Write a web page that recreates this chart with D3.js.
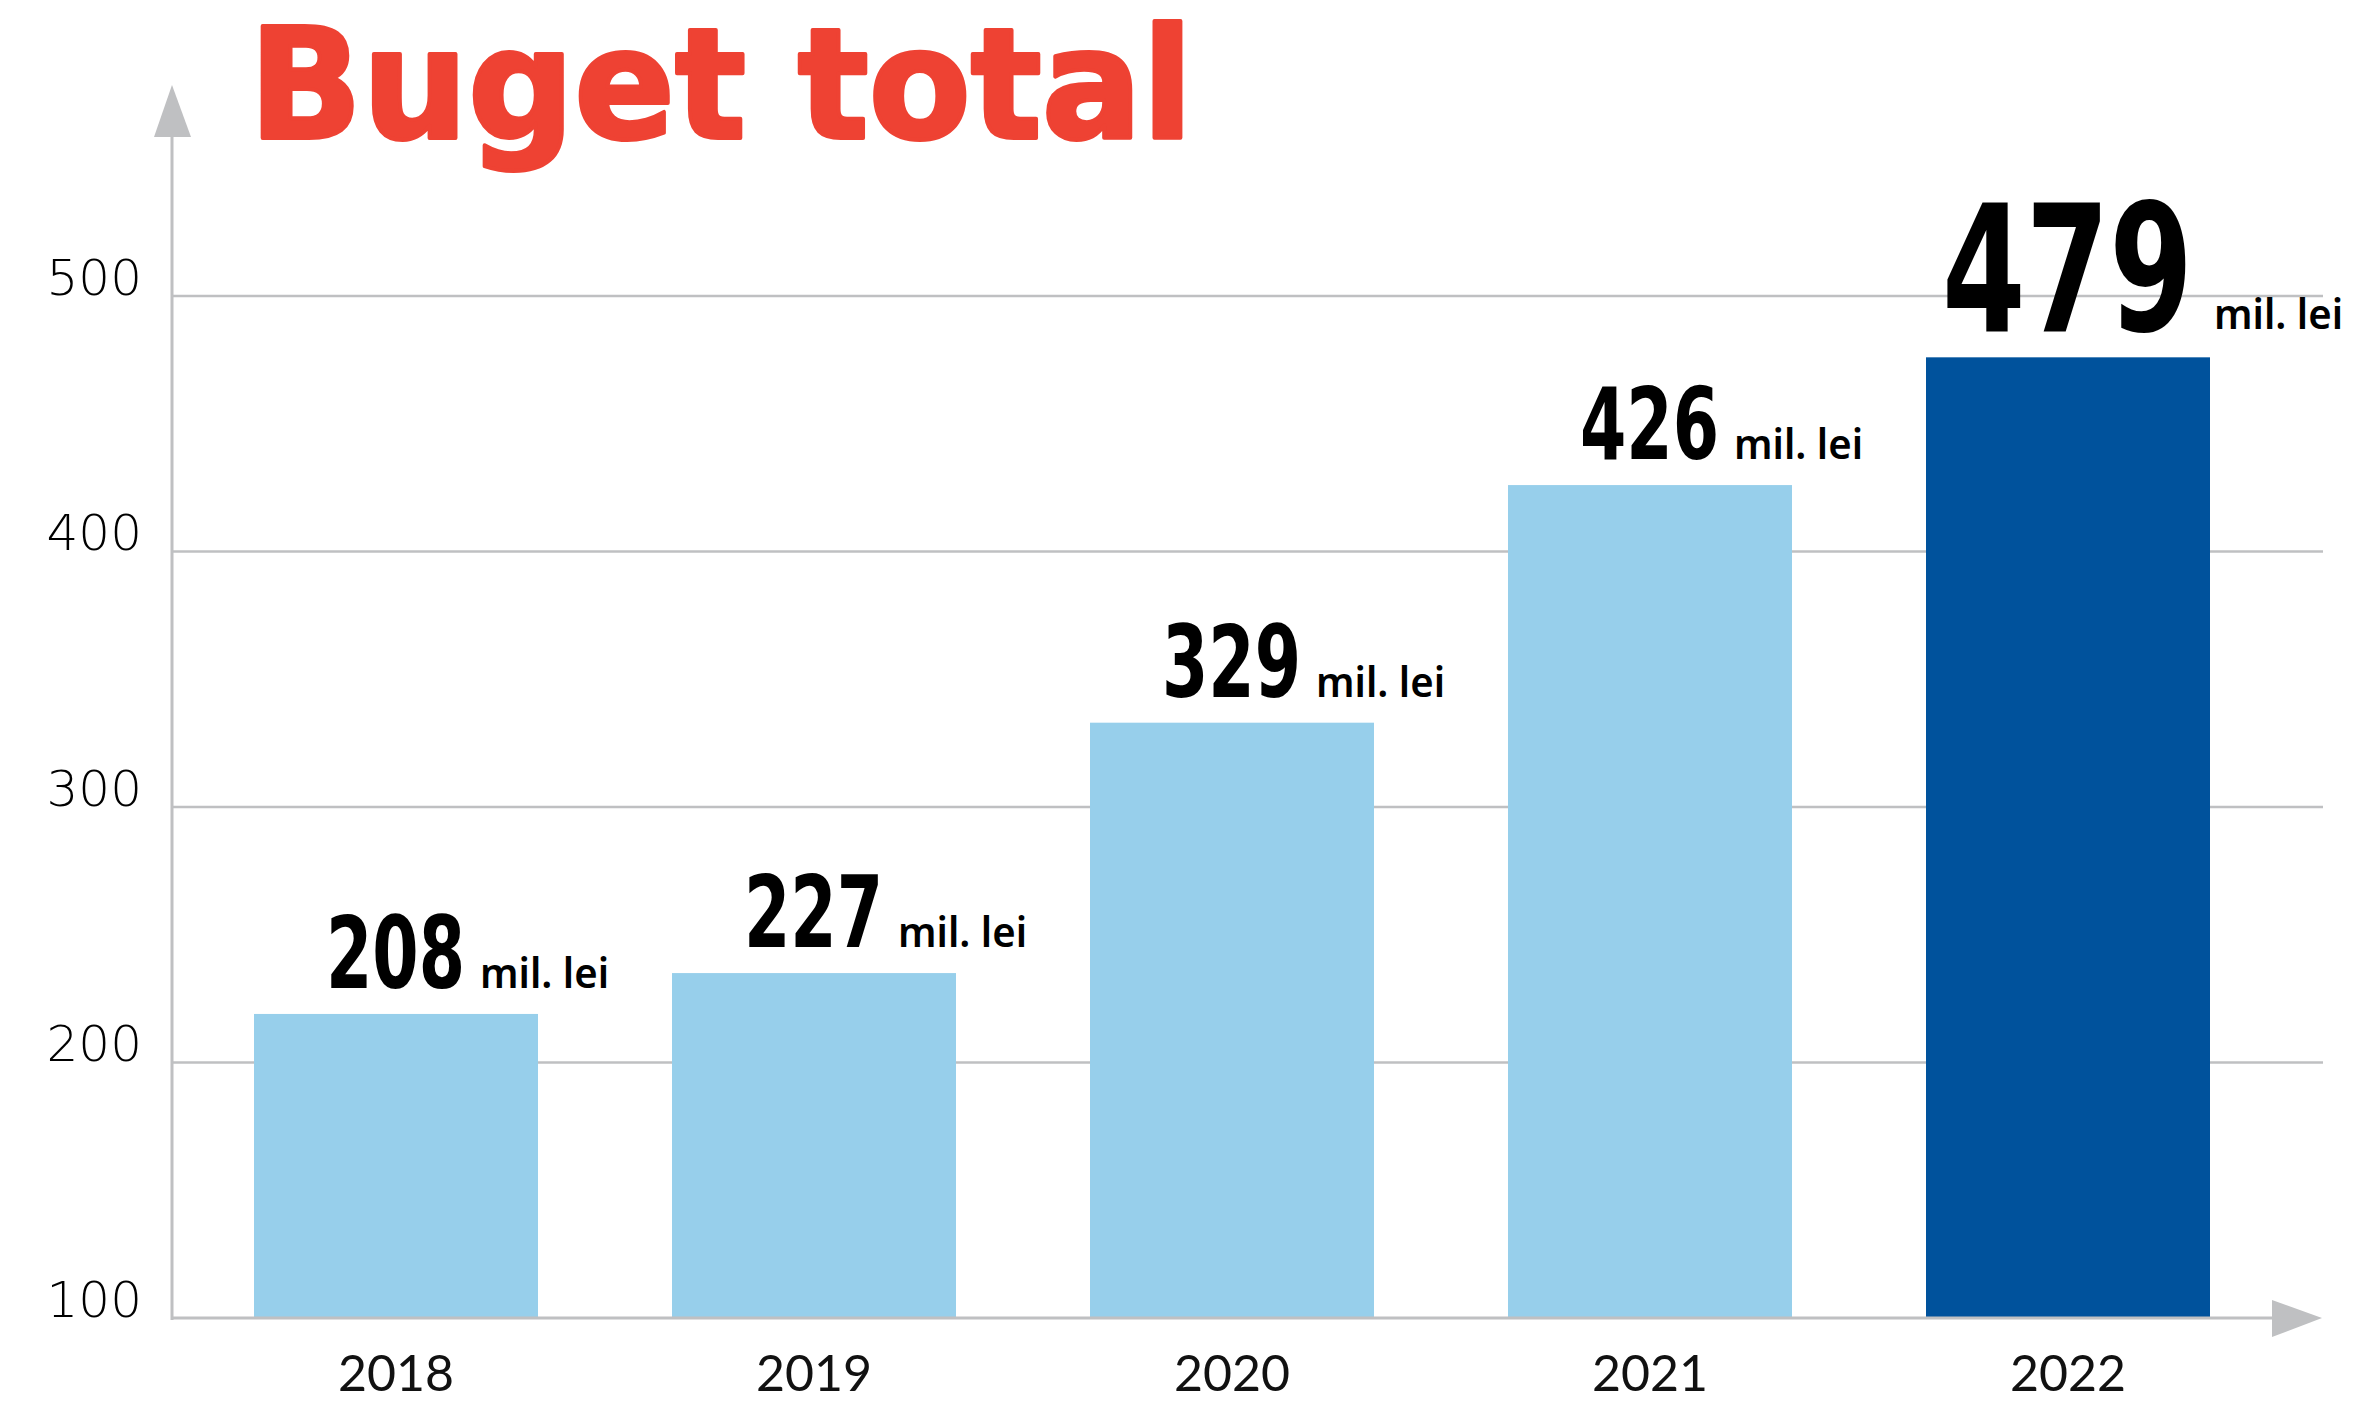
<!DOCTYPE html>
<html>
<head>
<meta charset="utf-8">
<script src="https://cdn.jsdelivr.net/npm/d3@7"></script>
<style>
  html, body { margin: 0; padding: 0; background: #fff; }
  svg { display: block; }
</style>
</head>
<body>
<script>
// date din grafic
var years = ["2018", "2019", "2020", "2021", "2022"];
var budget = [208, 227, 329, 426, 479];          // valorile scrise pe grafic
var barLevel = [219, 235, 333, 426, 476];        // inaltimea barelor citita pe axa
var yTicks = [100, 200, 300, 400, 500];
var highlight = "2022";

var W = 2366, H = 1401;
var grey = "#bfc0c2";

var svg = d3.select("body").append("svg")
        .attr("width", W)
        .attr("height", H);

var y = d3.scaleLinear().domain([100, 500]).range([1318, 296]);
var x = d3.scaleBand().domain(years).range([187, 2277])
        .paddingInner(0.3206).paddingOuter(0.1603);

// gridlines
svg.append("g").selectAll("line")
        .data(yTicks.slice(1))
        .join("line")
        .attr("x1", 172)
        .attr("x2", 2323)
        .attr("y1", function (d) { return y(d); })
        .attr("y2", function (d) { return y(d); })
        .style("stroke", grey)
        .style("stroke-width", 2.5);

// tick labels
var yAxis = svg.append("g")
        .attr("transform", "translate(142,0)")
        .call(d3.axisLeft(y).tickValues(yTicks).tickSize(0).tickPadding(0));
yAxis.select(".domain").remove();
yAxis.selectAll("text")
        .attr("dy", "-0.04em")
        .style("font-family", "'DejaVu Sans'")
        .style("font-weight", 200)
        .style("font-size", "50px")
        .style("fill", "#000");

// bars
svg.append("g").selectAll("rect")
        .data(years)
        .join("rect")
        .attr("x", function (d) { return x(d); })
        .attr("width", x.bandwidth())
        .attr("y", function (d, i) { return y(barLevel[i]); })
        .attr("height", function (d, i) { return y(100) - y(barLevel[i]); })
        .style("fill", function (d) { return d == highlight ? "#00529c" : "#97cfeb"; });

// axes with arrows
svg.append("line")
        .attr("x1", 172).attr("x2", 172)
        .attr("y1", y(100) + 2).attr("y2", 130)
        .style("stroke", grey).style("stroke-width", 3);
svg.append("path")
        .attr("d", "M172,85 L191,137 L154,137 Z")
        .style("fill", grey);
svg.append("line")
        .attr("x1", 172).attr("x2", 2280)
        .attr("y1", y(100)).attr("y2", y(100))
        .style("stroke", grey).style("stroke-width", 3);
svg.append("path")
        .attr("d", "M2322," + y(100) + " L2272," + (y(100) - 18) + " L2272," + (y(100) + 19) + " Z")
        .style("fill", grey);

// year labels
svg.append("g").selectAll("text")
        .data(years)
        .join("text")
        .attr("x", function (d) { return x(d) + x.bandwidth() / 2; })
        .attr("y", 1391)
        .attr("text-anchor", "middle")
        .style("font-family", "Lato")
        .style("font-weight", 400)
        .style("font-size", "50px")
        .style("fill", "#111")
        .text(function (d) { return d; });

// value labels
var labels = svg.append("g").selectAll("g")
        .data(years)
        .join("g")
        .attr("transform", function (d, i) {
            var cx = x(d) + x.bandwidth() / 2;
            return "translate(" + cx + "," + (y(barLevel[i]) - 26) + ")";
        });

labels.append("text")
        .attr("x", function (d) { return d == highlight ? -126 : -70; })
        .attr("textLength", function (d) { return d == highlight ? 251 : 139; })
        .attr("lengthAdjust", "spacingAndGlyphs")
        .style("font-family", "'Liberation Sans Narrow', 'Arial Narrow', 'DejaVu Sans Condensed', sans-serif")
        .style("font-weight", "bold")
        .style("font-size", function (d) { return d == highlight ? "177px" : "99px"; })
        .style("fill", "#000")
        .text(function (d, i) { return budget[i]; });

labels.append("text")
        .attr("x", function (d) { return d == highlight ? 146 : 84; })
        .attr("y", function (d) { return d == highlight ? -2 : 0; })
        .attr("textLength", 129)
        .attr("lengthAdjust", "spacingAndGlyphs")
        .style("font-family", "'Noto Sans'")
        .style("font-weight", 600)
        .style("font-size", "42px")
        .style("fill", "#000")
        .text("mil. lei");

// titlu
svg.append("text")
        .attr("x", 249)
        .attr("y", 138)
        .attr("textLength", 944)
        .attr("lengthAdjust", "spacingAndGlyphs")
        .style("font-family", "'DejaVu Sans'")
        .style("font-weight", "bold")
        .style("font-size", "153px")
        .style("fill", "#ee4233")
        .style("stroke", "#ee4233")
        .style("stroke-width", 4)
        .style("stroke-linejoin", "round")
        .text("Buget total");
</script>
</body>
</html>
